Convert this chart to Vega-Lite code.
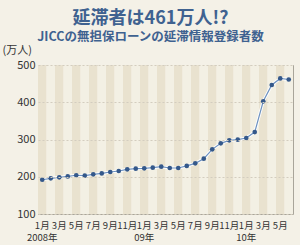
{
  "$schema": "https://vega.github.io/schema/vega-lite/v6.json",
  "width": 255,
  "height": 149,
  "autosize": {"type": "none"},
  "padding": {"left": 38, "top": 65, "right": 7, "bottom": 31},
  "background": "#f4f1e7",
  "title": {
    "text": "延滞者は461万人!?",
    "subtitle": "JICCの無担保ローンの延滞情報登録者数",
    "anchor": "middle",
    "dx": -15,
    "offset": 1,
    "font": "Noto Sans CJK JP",
    "fontSize": 18,
    "fontWeight": "bold",
    "color": "#3f6290",
    "subtitleFont": "Noto Sans CJK JP",
    "subtitleFontSize": 12.5,
    "subtitleFontWeight": "bold",
    "subtitleColor": "#3f6290",
    "subtitlePadding": 3
  },
  "config": {
    "view": {"stroke": "#a9a59a", "strokeWidth": 1},
    "axis": {"labelFont": "Noto Sans CJK JP", "titleFont": "Noto Sans CJK JP"}
  },
  "data": {
    "values": [
      {"ym": "2008-01", "v": 192},
      {"ym": "2008-02", "v": 195.7},
      {"ym": "2008-03", "v": 198.4},
      {"ym": "2008-04", "v": 201},
      {"ym": "2008-05", "v": 204},
      {"ym": "2008-06", "v": 203},
      {"ym": "2008-07", "v": 206.5},
      {"ym": "2008-08", "v": 209},
      {"ym": "2008-09", "v": 212.8},
      {"ym": "2008-10", "v": 215.4},
      {"ym": "2008-11", "v": 220},
      {"ym": "2008-12", "v": 221.7},
      {"ym": "2009-01", "v": 222.6},
      {"ym": "2009-02", "v": 224.4},
      {"ym": "2009-03", "v": 227},
      {"ym": "2009-04", "v": 223.5},
      {"ym": "2009-05", "v": 223.5},
      {"ym": "2009-06", "v": 229},
      {"ym": "2009-07", "v": 236},
      {"ym": "2009-08", "v": 248.5},
      {"ym": "2009-09", "v": 273.6},
      {"ym": "2009-10", "v": 289.7},
      {"ym": "2009-11", "v": 297.8},
      {"ym": "2009-12", "v": 299.6},
      {"ym": "2010-01", "v": 304},
      {"ym": "2010-02", "v": 320},
      {"ym": "2010-03", "v": 402.5},
      {"ym": "2010-04", "v": 446.3},
      {"ym": "2010-05", "v": 464},
      {"ym": "2010-06", "v": 461}
    ]
  },
  "encoding": {
    "x": {
      "field": "ym",
      "type": "ordinal",
      "sort": null,
      "scale": {"paddingInner": 0, "paddingOuter": 0},
      "axis": {
        "title": null,
        "ticks": false,
        "domain": false,
        "labelAngle": 0,
        "labelOverlap": false,
        "labelPadding": 6,
        "labelBaseline": "top",
        "labelFontSize": 9.5,
        "labelColor": "#333333",
        "labelLineHeight": 12,
        "labelExpr": "(toNumber(substring(datum.value,5,7)) % 2 == 1) ? (toNumber(substring(datum.value,5,7)) == 1 ? ['1月', substring(datum.value,0,4) == '2008' ? '2008年' : substring(datum.value,2,4) + '年'] : toNumber(substring(datum.value,5,7)) + '月') : ''"
      }
    }
  },
  "layer": [
    {
      "mark": {"type": "rect"},
      "encoding": {
        "color": {
          "condition": {"test": "toNumber(substring(datum.ym,5,7)) % 2 == 1", "value": "#e9e2cf"},
          "value": "#f3f0e4"
        }
      }
    },
    {
      "encoding": {
        "y": {
          "field": "v",
          "type": "quantitative",
          "scale": {"domain": [100, 500], "nice": false, "zero": false},
          "axis": {
            "title": "(万人)",
            "titleAngle": 0,
            "titleAlign": "left",
            "titleBaseline": "bottom",
            "titleX": -36,
            "titleY": -10,
            "titleFontSize": 11,
            "titleFontWeight": "normal",
            "titleColor": "#333333",
            "values": [100, 200, 300, 400, 500],
            "tickCount": 5,
            "labelOverlap": false,
            "ticks": false,
            "domain": false,
            "labelPadding": 3,
            "labelFontSize": 11,
            "labelColor": "#333333",
            "grid": true,
            "gridColor": "#d3cdbf",
            "gridDash": [2, 2],
            "zindex": 1
          }
        }
      },
      "layer": [
        {"mark": {"type": "line", "color": "#ffffff", "strokeWidth": 3}},
        {"mark": {"type": "line", "color": "#6e92c0", "strokeWidth": 1.2}},
        {"mark": {"type": "circle", "color": "#34588a", "opacity": 1, "size": 22}}
      ]
    }
  ]
}
